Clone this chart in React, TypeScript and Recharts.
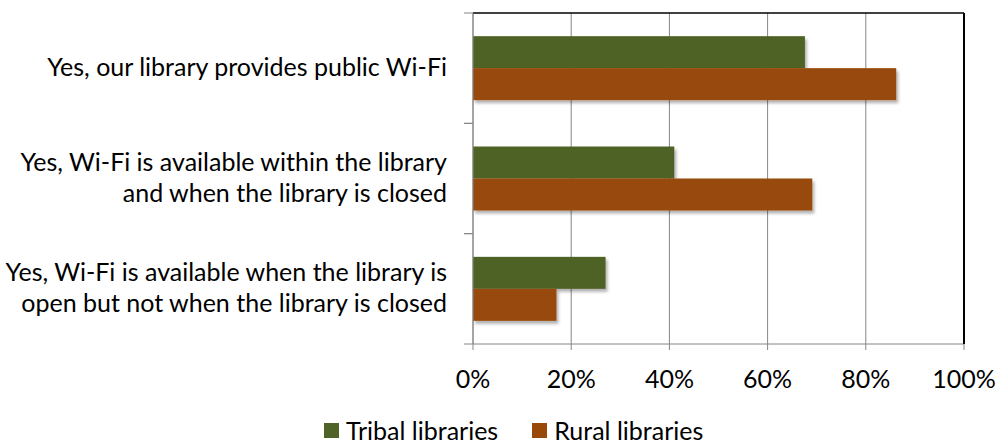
import React from "react";
import { BarChart, Bar, XAxis, YAxis, CartesianGrid, Legend } from "recharts";

const categories = [
  "Yes, our library provides public Wi-Fi",
  "Yes, Wi-Fi is available within the library\nand when the library is closed",
  "Yes, Wi-Fi is available when the library is\nopen but not when the library is closed",
];
const tribalValues = [67.6, 41, 27];
const ruralValues = [86.2, 69.1, 17];
const xTicks = [0, 20, 40, 60, 80, 100];
const seriesNames = ["Tribal libraries", "Rural libraries"];
const seriesColors = ["#4F6228", "#984807"];

const data = categories.map((c, i) => ({
  category: c,
  tribal: tribalValues[i],
  rural: ruralValues[i],
}));

const FONT = "Lato, 'Noto Sans', sans-serif";
const FS = 25;

const CategoryTick = (props: any) => {
  const { x, y, payload } = props;
  const lines = String(payload.value).split("\n");
  const lh = 31;
  const half = payload.offset || 0;
  const ax = x + 26;
  return (
    <g>
      <line x1={ax - 9} x2={ax} y1={y - half} y2={y - half} stroke="#868686" strokeWidth={1} />
      <line x1={ax - 9} x2={ax} y1={y + half} y2={y + half} stroke="#868686" strokeWidth={1} />
      <text x={x} y={y} textAnchor="end" fontFamily={FONT} fontSize={FS} fill="#000">
        {lines.map((l, i) => (
          <tspan key={i} x={x} dy={i === 0 ? -((lines.length - 1) / 2) * lh + 8 : lh}>
            {l}
          </tspan>
        ))}
      </text>
    </g>
  );
};

const ShadowBar = (props: any) => {
  const { x, y, width, height, fill } = props;
  if (width <= 0) return null;
  return <rect x={x} y={y} width={width} height={height} fill={fill} filter="url(#barShadow)" />;
};

const LegendContent = () => (
  <div
    style={{
      display: "flex",
      alignItems: "center",
      height: 30,
      lineHeight: "30px",
      paddingLeft: 324,
      fontFamily: FONT,
      fontSize: FS,
      color: "#000",
      whiteSpace: "nowrap",
    }}
  >
    {seriesNames.map((n, i) => (
      <div key={n} style={{ display: "flex", alignItems: "center", marginRight: 34 }}>
        <div style={{ width: 15, height: 15, background: seriesColors[i], marginRight: 7 }} />
        <span>{n}</span>
      </div>
    ))}
  </div>
);

export default function App() {
  return (
    <div style={{ position: "absolute", left: 0, top: 0, width: 998, height: 445, background: "#fff" }}>
      <svg width={0} height={0} style={{ position: "absolute" }}>
        <defs>
          <filter id="barShadow" x="-10%" y="-20%" width="130%" height="160%">
            <feDropShadow dx={2} dy={3} stdDeviation={1.5} floodColor="#000" floodOpacity={0.3} />
          </filter>
        </defs>
      </svg>
      <BarChart
        width={998}
        height={445}
        data={data}
        layout="vertical"
        margin={{ top: 12, right: 33, bottom: 0, left: 0 }}
        barCategoryGap="21%"
        barGap={0}
      >
        <CartesianGrid horizontal={false} vertical={true} stroke="#868686" xAxisId="x" yAxisId="cat" />
        <XAxis
          xAxisId="x"
          type="number"
          domain={[0, 100]}
          ticks={xTicks}
          tickFormatter={(v: number) => `${v}%`}
          height={71}
          axisLine={{ stroke: "#868686" }}
          tickLine={{ stroke: "#868686" }}
          tickSize={6}
          tickMargin={20}
          tick={{ fontFamily: FONT, fontSize: FS, fill: "#000" }}
          interval={0}
        />
        <XAxis
          xAxisId="top"
          orientation="top"
          type="number"
          domain={[0, 100]}
          height={1}
          tick={false}
          tickLine={false}
          axisLine={{ stroke: "#000", strokeWidth: 1.5 }}
        />
        <YAxis
          yAxisId="cat"
          type="category"
          dataKey="category"
          width={473}
          axisLine={{ stroke: "#868686" }}
          tickLine={false}
          tickSize={9}
          tickMargin={17}
          tick={<CategoryTick />}
          interval={0}
        />
        <YAxis
          yAxisId="right"
          orientation="right"
          type="category"
          dataKey="category"
          width={1}
          tick={false}
          tickLine={false}
          axisLine={{ stroke: "#000", strokeWidth: 2 }}
        />
        <Bar
          dataKey="tribal"
          name={seriesNames[0]}
          fill={seriesColors[0]}
          xAxisId="x"
          yAxisId="cat"
          isAnimationActive={false}
          shape={<ShadowBar />}
        />
        <Bar
          dataKey="rural"
          name={seriesNames[1]}
          fill={seriesColors[1]}
          xAxisId="x"
          yAxisId="cat"
          isAnimationActive={false}
          shape={<ShadowBar />}
        />
        <Legend verticalAlign="bottom" content={<LegendContent />} />
      </BarChart>
    </div>
  );
}
